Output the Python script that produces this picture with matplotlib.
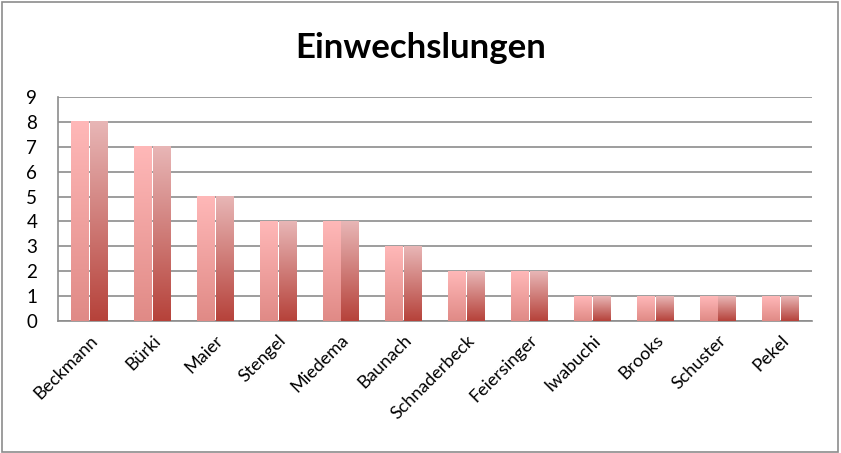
import numpy as np
import matplotlib.pyplot as plt
from matplotlib.colors import LinearSegmentedColormap
from matplotlib.patches import Rectangle

players = ["Beckmann", "Bürki", "Maier", "Stengel", "Miedema", "Baunach",
           "Schnaderbeck", "Feiersinger", "Iwabuchi", "Brooks", "Schuster", "Pekel"]
subs_in = [8, 7, 5, 4, 4, 3, 2, 2, 1, 1, 1, 1]
y_ticks = list(range(0, 10))

plt.rcParams['font.family'] = ['Lato', 'DejaVu Sans']

# bar halves: light on the left, darker on the right (top -> bottom)
cmap_left = LinearSegmentedColormap.from_list("left", ["#ffb8b8", "#e08a86"])
cmap_right = LinearSegmentedColormap.from_list("right", ["#e8b6b6", "#b6423a"])
grad = np.linspace(0, 1, 256).reshape(-1, 1)

fig = plt.figure(figsize=(8.41, 4.53), dpi=100)
fig.patch.set_facecolor("white")
fig.patches.append(Rectangle((0.002, 0.003), 0.995, 0.993, transform=fig.transFigure,
                             fill=False, edgecolor="#8c8c8c", linewidth=1.2))

ax = fig.add_axes([58 / 841, 1 - 321 / 453, (812 - 58) / 841, (321 - 97) / 453])

width = 0.58
x = np.arange(len(players))
for xi, v in zip(x, subs_in):
    x0 = xi - width / 2
    ax.imshow(grad, cmap=cmap_left, extent=[x0, xi - 0.01, 0, v],
              aspect="auto", origin="upper", zorder=3)
    ax.imshow(grad, cmap=cmap_right, extent=[xi + 0.01, xi + width / 2, 0, v],
              aspect="auto", origin="upper", zorder=3)

ax.set_xlim(-0.5, len(players) - 0.5)
ax.set_ylim(0, 9)
ax.set_yticks(y_ticks)
ax.set_yticklabels([str(t) for t in y_ticks], fontsize=13.5)
ax.set_xticks(x)
ax.set_xticklabels(players, rotation=45, ha="right", rotation_mode="anchor", fontsize=13)
ax.tick_params(length=0)
ax.tick_params(axis="y", pad=15)
ax.tick_params(axis="x", pad=8)
ax.yaxis.grid(True, color="#8c8c8c", linewidth=1.2, zorder=0)
ax.set_axisbelow(True)
for s in ["top", "right"]:
    ax.spines[s].set_visible(False)
for s in ["left", "bottom"]:
    ax.spines[s].set_color("#8c8c8c")
    ax.spines[s].set_linewidth(1.2)

fig.text(0.5, 1 - 48 / 453, "Einwechslungen", ha="center", va="center",
         fontsize=25, fontweight="bold")

fig.savefig("out.png", dpi=100)
